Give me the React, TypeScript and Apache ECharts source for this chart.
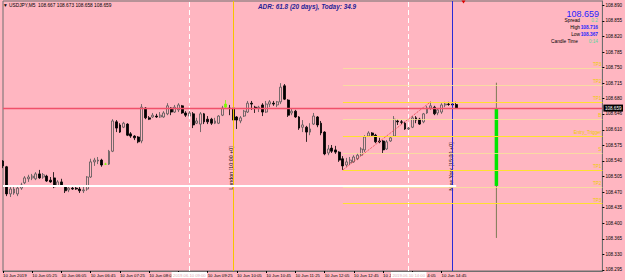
import React, { useEffect, useRef } from "react";
import * as echarts from "echarts";

const FONT = "'Liberation Sans', Arial, sans-serif";
const PINK = "#ffb6c1";

// x axis construction (M5 bars)
const firstBarMinute = 4 * 60 + 45;
const barMinutes = 5;
const slotCount = 165;
const labelEvery = 8;
const lastLabelIndex = 120;
const hiddenLabelIndexes = [48];
const firstLabel = "10 Jun 2019";
const labelPrefix = "10 Jun ";
// labels partly covered by the separator date boxes: only the visible part is kept
const clippedLabelIndexes = [104, 112];
const clippedLabelTexts = ["10 J", "{s|4:05}"];

// OHLC of USDJPY M5 bars
const opens = [
  108.540, 108.527, 108.466, 108.468, 108.466, 108.479, 108.491, 108.500, 108.502, 108.500,
  108.511, 108.504, 108.506, 108.497, 108.502, 108.484, 108.493, 108.484, 108.475, 108.479,
  108.479, 108.477, 108.473, 108.477, 108.504, 108.538, 108.540, 108.542, 108.533, 108.533,
  108.562, 108.628, 108.621, 108.616, 108.623, 108.601, 108.596, 108.594, 108.585, 108.659,
  108.637, 108.639, 108.641, 108.639, 108.639, 108.646, 108.659, 108.650, 108.655, 108.664,
  108.648, 108.641, 108.646, 108.625, 108.623, 108.646, 108.634, 108.634, 108.625, 108.625,
  108.643, 108.661, 108.659, 108.659, 108.639, 108.630, 108.641, 108.650, 108.670, 108.661,
  108.659, 108.666, 108.650, 108.668, 108.670, 108.666, 108.673, 108.709, 108.677, 108.648,
  108.652, 108.639, 108.616, 108.616, 108.605, 108.623, 108.639, 108.625, 108.605, 108.558,
  108.569, 108.565, 108.560, 108.545, 108.531, 108.536, 108.538, 108.545, 108.553, 108.565,
  108.596, 108.603, 108.598, 108.585, 108.585, 108.567, 108.585, 108.596, 108.630, 108.628,
  108.625, 108.612, 108.616, 108.637, 108.634, 108.628, 108.648, 108.659, 108.661, 108.648,
  108.650, 108.666, 108.668, 108.668, 108.667,
];
const closes = [
  108.529, 108.466, 108.477, 108.477, 108.479, 108.486, 108.502, 108.504, 108.506, 108.511,
  108.502, 108.509, 108.495, 108.493, 108.482, 108.493, 108.484, 108.473, 108.479, 108.477,
  108.477, 108.473, 108.475, 108.504, 108.538, 108.542, 108.542, 108.531, 108.533, 108.562,
  108.630, 108.614, 108.605, 108.625, 108.598, 108.596, 108.592, 108.583, 108.661, 108.637,
  108.634, 108.643, 108.639, 108.643, 108.648, 108.664, 108.650, 108.661, 108.666, 108.648,
  108.643, 108.648, 108.621, 108.630, 108.646, 108.628, 108.628, 108.625, 108.630, 108.641,
  108.659, 108.668, 108.658, 108.632, 108.632, 108.637, 108.652, 108.670, 108.668, 108.659,
  108.661, 108.650, 108.668, 108.673, 108.668, 108.673, 108.706, 108.679, 108.643, 108.652,
  108.639, 108.614, 108.621, 108.605, 108.612, 108.641, 108.621, 108.603, 108.556, 108.567,
  108.562, 108.560, 108.542, 108.529, 108.538, 108.542, 108.549, 108.553, 108.567, 108.594,
  108.603, 108.598, 108.583, 108.583, 108.565, 108.583, 108.592, 108.634, 108.628, 108.627,
  108.612, 108.614, 108.637, 108.632, 108.623, 108.646, 108.659, 108.664, 108.646, 108.655,
  108.666, 108.668, 108.667, 108.666, 108.659,
];
const lows = [
  108.524, 108.461, 108.459, 108.464, 108.461, 108.475, 108.488, 108.493, 108.497, 108.497,
  108.500, 108.500, 108.493, 108.491, 108.479, 108.482, 108.482, 108.468, 108.470, 108.475,
  108.475, 108.468, 108.468, 108.473, 108.502, 108.529, 108.533, 108.527, 108.531, 108.531,
  108.560, 108.605, 108.603, 108.614, 108.596, 108.592, 108.587, 108.580, 108.580, 108.634,
  108.632, 108.637, 108.637, 108.637, 108.637, 108.643, 108.643, 108.648, 108.650, 108.646,
  108.639, 108.639, 108.614, 108.623, 108.605, 108.623, 108.623, 108.621, 108.623, 108.623,
  108.641, 108.659, 108.643, 108.628, 108.612, 108.625, 108.639, 108.648, 108.655, 108.648,
  108.650, 108.641, 108.648, 108.661, 108.664, 108.661, 108.668, 108.677, 108.639, 108.643,
  108.637, 108.610, 108.605, 108.583, 108.598, 108.621, 108.616, 108.598, 108.553, 108.553,
  108.558, 108.556, 108.538, 108.520, 108.527, 108.531, 108.536, 108.542, 108.551, 108.560,
  108.594, 108.594, 108.580, 108.580, 108.558, 108.565, 108.583, 108.594, 108.621, 108.623,
  108.610, 108.603, 108.614, 108.625, 108.621, 108.625, 108.646, 108.655, 108.643, 108.643,
  108.646, 108.661, 108.664, 108.664, 108.658,
];
const highs = [
  108.542, 108.529, 108.482, 108.484, 108.484, 108.491, 108.506, 108.509, 108.511, 108.515,
  108.520, 108.513, 108.509, 108.504, 108.515, 108.497, 108.500, 108.486, 108.484, 108.486,
  108.482, 108.482, 108.482, 108.506, 108.545, 108.547, 108.549, 108.545, 108.536, 108.565,
  108.634, 108.632, 108.625, 108.628, 108.625, 108.605, 108.598, 108.596, 108.668, 108.661,
  108.641, 108.648, 108.646, 108.650, 108.652, 108.670, 108.661, 108.666, 108.670, 108.666,
  108.652, 108.652, 108.650, 108.637, 108.650, 108.648, 108.641, 108.637, 108.637, 108.643,
  108.664, 108.677, 108.666, 108.661, 108.641, 108.641, 108.655, 108.675, 108.675, 108.664,
  108.664, 108.670, 108.675, 108.677, 108.675, 108.675, 108.715, 108.713, 108.679, 108.659,
  108.655, 108.641, 108.632, 108.619, 108.625, 108.648, 108.641, 108.630, 108.607, 108.576,
  108.576, 108.574, 108.562, 108.551, 108.547, 108.549, 108.553, 108.558, 108.571, 108.598,
  108.607, 108.605, 108.601, 108.592, 108.587, 108.587, 108.596, 108.641, 108.634, 108.632,
  108.628, 108.619, 108.641, 108.641, 108.637, 108.648, 108.664, 108.673, 108.664, 108.659,
  108.670, 108.673, 108.673, 108.673, 108.673,
];
const limeBars = [28, 61];

// price scale
const priceMin = 108.2927;
const priceMax = 108.8997;
const priceTicks = [
  108.890, 108.855, 108.820, 108.785, 108.750, 108.715, 108.680, 108.646, 108.610,
  108.575, 108.540, 108.505, 108.470, 108.435, 108.400, 108.365, 108.330, 108.295,
];

// levels and objects
const levelNames = ["TP3", "TP2", "TP1", "B", "Entry_Trigger", "S", "TP1", "TP2", "TP3"];
const levelPrices = [108.748, 108.710, 108.672, 108.634, 108.596, 108.558, 108.520, 108.482, 108.444];
const levelBright = [false, false, true, false, true, false, true, false, true];
const levelStartBar = 93;
const bidPrice = 108.659;
const dayOpenPrice = 108.484;
const lastBar = 124;
const trendFrom = [93, 108.520];
const trendTo = [117, 108.673];
const separatorBars = [51, 111];
const separatorLabels = ["2019.06.10 09:00", "2019.06.10 14:00"];
const londonBar = 63;
const newYorkBar = 123;
const dailyBar = [135, 108.484, 108.659, 108.367, 108.716];
const markerBar = 126;
const markerPrice = 108.8975;

function buildOption() {
  const categories: string[] = [];
  for (let i = 0; i < slotCount; i++) {
    const m = firstBarMinute + i * barMinutes;
    categories.push(
      String(Math.floor(m / 60)).padStart(2, "0") + ":" + String(m % 60).padStart(2, "0")
    );
  }
  const showTick = (idx: number) => idx % labelEvery === 0 && idx <= lastLabelIndex;
  const showLabel = (idx: number) => showTick(idx) && !hiddenLabelIndexes.includes(idx);

  const lime = "#7cfc00";
  const candleData = opens.map((o, i) => {
    const v = [o, closes[i], lows[i], highs[i]];
    return limeBars.includes(i)
      ? { value: v, itemStyle: { color: lime, color0: lime, borderColor: lime, borderColor0: lime } }
      : v;
  });

  const levelLines = levelPrices.map((p, i) => [
    {
      name: levelNames[i],
      coord: [levelStartBar, p],
      lineStyle: { color: levelBright[i] ? "#ffe030" : "#f7e39a", width: levelBright[i] ? 1 : 0.8, type: "solid" },
      label: {
        show: true,
        position: "insideEndTop",
        formatter: levelNames[i],
        color: "#f0cc00",
        fontSize: 4.6,
        fontFamily: FONT,
        distance: 1,
      },
    },
    { coord: [slotCount - 1, p] },
  ]);

  const separatorLines = separatorBars.map((b, i) => ({
    xAxis: b,
    lineStyle: { color: "#ffffff", width: 1, type: [5, 3] },
    label: {
      show: true,
      position: "start",
      formatter: separatorLabels[i],
      backgroundColor: "#ffffff",
      color: "#d9a9b3",
      fontSize: 4.2,
      fontFamily: FONT,
      padding: [1, 1.5],
      distance: 1,
    },
  }));

  return {
    animation: false,
    backgroundColor: PINK,
    grid: {
      left: 2,
      right: 21,
      top: 1,
      bottom: 9,
      show: true,
      backgroundColor: PINK,
      borderColor: "#6e6e6e",
      borderWidth: 1,
    },
    xAxis: {
      type: "category",
      data: categories,
      boundaryGap: false,
      axisLine: { show: true, lineStyle: { color: "#6e6e6e", width: 1 } },
      axisTick: { show: true, length: 2, interval: (idx: number) => showTick(idx), lineStyle: { color: "#000" } },
      axisLabel: {
        show: true,
        interval: (idx: number) => showLabel(idx),
        formatter: (v: string, idx: number) => {
          if (idx === 0) return firstLabel;
          const k = clippedLabelIndexes.indexOf(idx);
          if (k >= 0) return clippedLabelTexts[k];
          return labelPrefix + v;
        },
        align: "left",
        fontSize: 4.3,
        fontFamily: FONT,
        color: "#000",
        margin: 2,
        rich: {
          s: { padding: [0, 0, 0, 15], fontSize: 4.3, fontFamily: FONT, color: "#000" },
        },
      },
      splitLine: { show: false },
    },
    yAxis: {
      type: "value",
      position: "right",
      min: priceMin,
      max: priceMax,
      scale: true,
      axisLine: { show: true, lineStyle: { color: "#6e6e6e", width: 1 } },
      axisTick: { show: true, length: 2, customValues: priceTicks, lineStyle: { color: "#000" } },
      axisLabel: {
        show: true,
        customValues: priceTicks,
        formatter: (v: number) => v.toFixed(3),
        fontSize: 4.6,
        fontFamily: FONT,
        color: "#000",
        margin: 3,
      },
      splitLine: { show: false },
    },
    graphic: [
      {
        type: "text", x: 3, y: 5,
        style: { text: "▼ USDJPY,M5  108.667 108.673 108.658 108.659", fontSize: 4.8, fontFamily: FONT, fill: "#000", verticalAlign: "middle" },
      },
      {
        type: "text", x: 307, y: 6.5,
        style: { text: "ADR: 61.8 (20 days), Today: 34.9", fontSize: 6.4, fontWeight: "bold", fontStyle: "italic", fontFamily: FONT, fill: "#1e1e96", align: "center", verticalAlign: "middle" },
      },
      {
        type: "text", x: 599, y: 13.5,
        style: { text: "108.659", fontSize: 9, fontFamily: FONT, fill: "#1f1fff", align: "right", verticalAlign: "middle" },
      },
      { type: "text", x: 580, y: 20.3, style: { text: "Spread", fontSize: 4.8, fontFamily: FONT, fill: "#000", align: "right", verticalAlign: "middle" } },
      { type: "text", x: 598, y: 20.3, style: { text: "0.2", fontSize: 4.8, fontFamily: FONT, fill: "#5ad89c", align: "right", verticalAlign: "middle" } },
      { type: "text", x: 580, y: 27.3, style: { text: "High", fontSize: 4.8, fontFamily: FONT, fill: "#000", align: "right", verticalAlign: "middle" } },
      { type: "text", x: 598, y: 27.3, style: { text: "108.716", fontSize: 4.8, fontWeight: "bold", fontFamily: FONT, fill: "#1f1fff", align: "right", verticalAlign: "middle" } },
      { type: "text", x: 580, y: 34.3, style: { text: "Low", fontSize: 4.8, fontFamily: FONT, fill: "#000", align: "right", verticalAlign: "middle" } },
      { type: "text", x: 598, y: 34.3, style: { text: "108.367", fontSize: 4.8, fontWeight: "bold", fontFamily: FONT, fill: "#1f1fff", align: "right", verticalAlign: "middle" } },
      { type: "text", x: 578, y: 41.3, style: { text: "Candle Time", fontSize: 4.8, fontFamily: FONT, fill: "#000", align: "right", verticalAlign: "middle" } },
      { type: "text", x: 598, y: 41.3, style: { text: "0:14", fontSize: 4.8, fontFamily: FONT, fill: "#5ad89c", align: "right", verticalAlign: "middle" } },
      {
        type: "text", x: 231, y: 168, rotation: Math.PI / 2,
        style: { text: "London [10:00 +0]", fontSize: 5.4, fontFamily: FONT, fill: "#111", align: "center", verticalAlign: "middle" },
      },
      {
        type: "text", x: 451.3, y: 166.5, rotation: Math.PI / 2,
        style: { text: "New York [15:00 +0]", fontSize: 5.4, fontFamily: FONT, fill: "#111", align: "center", verticalAlign: "middle" },
      },
    ],
    series: [
      {
        type: "candlestick",
        data: candleData,
        barWidth: 2.4,
        itemStyle: {
          color: PINK,
          borderColor: "#555555",
          color0: "#000000",
          borderColor0: "#000000",
          borderWidth: 0.8,
        },
        markPoint: {
          silent: true,
          animation: false,
          data: [
            {
              coord: [markerBar, markerPrice],
              symbol: "triangle",
              symbolRotate: 180,
              symbolSize: [4, 3],
              itemStyle: { color: "#e00000" },
              label: { show: false },
            },
          ],
        },
        markLine: {
          silent: true,
          symbol: ["none", "none"],
          animation: false,
          label: { show: false },
          data: [
            ...separatorLines,
            { xAxis: londonBar, lineStyle: { color: "#f5c400", width: 1, type: "solid" }, label: { show: false } },
            { xAxis: newYorkBar, lineStyle: { color: "#2a2ad6", width: 1, type: "solid" }, label: { show: false } },
            ...levelLines,
            [
              { coord: [0, dayOpenPrice], lineStyle: { color: "#ffffff", width: 2, type: "solid" }, label: { show: false } },
              { coord: [lastBar, dayOpenPrice] },
            ],
            [
              { coord: trendFrom, lineStyle: { color: "#e8404a", width: 1, type: "dotted" }, label: { show: false } },
              { coord: trendTo },
            ],
            [
              {
                coord: [0, bidPrice],
                lineStyle: { color: "#f0506a", width: 1.3, type: "solid" },
                label: {
                  show: true,
                  position: "end",
                  formatter: bidPrice.toFixed(3),
                  backgroundColor: "#000",
                  color: "#fff",
                  fontSize: 4.6,
                  fontFamily: FONT,
                  padding: [1, 1.5],
                  distance: 1,
                },
              },
              { coord: [slotCount - 1, bidPrice] },
            ],
          ],
        },
      },
      {
        type: "custom",
        data: [dailyBar],
        encode: { x: 0, y: [1, 2, 3, 4] },
        silent: true,
        z: 3,
        renderItem: (params: any, api: any) => {
          const x = api.value(0);
          const pOpen = api.coord([x, api.value(1)]);
          const pClose = api.coord([x, api.value(2)]);
          const pLow = api.coord([x, api.value(3)]);
          const pHigh = api.coord([x, api.value(4)]);
          return {
            type: "group",
            children: [
              {
                type: "line",
                shape: { x1: pHigh[0], y1: pHigh[1], x2: pLow[0], y2: pLow[1] },
                style: { stroke: "#7d7a55", lineWidth: 1 },
              },
              {
                type: "rect",
                shape: { x: pOpen[0] - 1.75, y: pClose[1], width: 3.5, height: pOpen[1] - pClose[1] },
                style: { fill: "#00e600" },
              },
            ],
          };
        },
      },
    ],
  };
}

export default function App() {
  const ref = useRef<HTMLDivElement>(null);
  useEffect(() => {
    if (!ref.current) return;
    const chart = echarts.init(ref.current, null, { renderer: "svg" });
    chart.setOption(buildOption() as any);
    return () => chart.dispose();
  }, []);
  return (
    <div
      ref={ref}
      style={{ position: "fixed", left: 0, top: 0, width: 625, height: 280, background: PINK }}
    />
  );
}
